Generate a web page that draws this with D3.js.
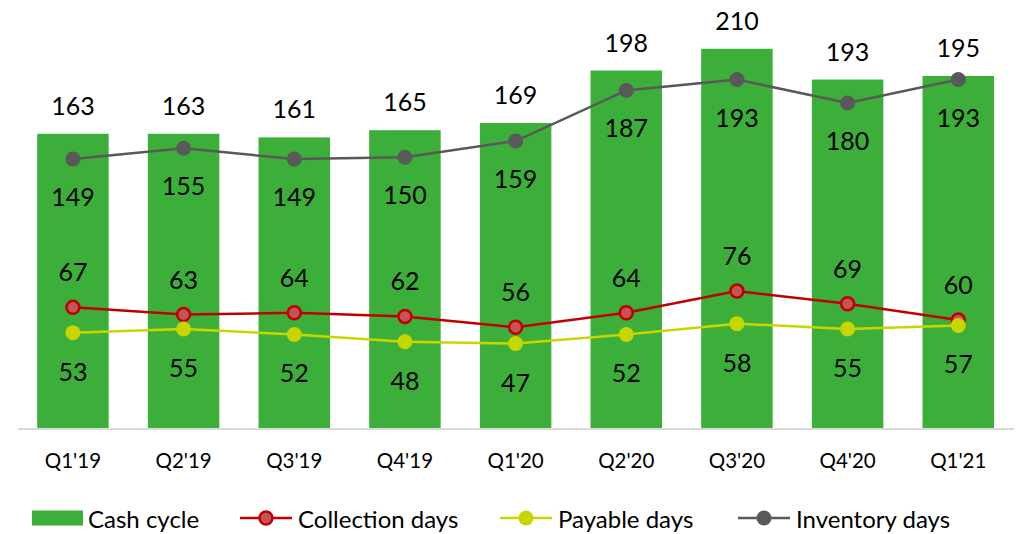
<!DOCTYPE html>
<html><head><meta charset="utf-8">
<script src="https://cdn.jsdelivr.net/npm/d3@7"></script>
<style>body{margin:0;background:#fff}svg{display:block}text{font-family:Lato,"Open Sans",sans-serif;fill:#000}</style>
</head><body><svg id="c" width="1021" height="534"></svg>
<script>
const quarters = ["Q1'19","Q2'19","Q3'19","Q4'19","Q1'20","Q2'20","Q3'20","Q4'20","Q1'21"];
const cashCycle = [163,163,161,165,169,198,210,193,195];
const inventoryDays = [149,155,149,150,159,187,193,180,193];
const collectionDays = [67,63,64,62,56,64,76,69,60];
const payableDays = [53,55,52,48,47,52,58,55,57];

const svg = d3.select("#c");
const x = d3.scaleBand().domain(quarters).range([17.6, 1013.6]).paddingInner(0.354).paddingOuter(0.177);
const y = d3.scaleLinear().domain([0, 237]).range([428.5, 0]);
const cx = d => x(d) + x.bandwidth()/2;

const GREEN = "#3cae3a", RED = "#c00000", REDF = "#c55357", YEL = "#c8d600", GRAY = "#595959";

// bars
svg.append("g").selectAll("rect").data(quarters).join("rect")
  .attr("x", d => x(d)).attr("width", x.bandwidth())
  .attr("y", (d,i) => y(cashCycle[i])).attr("height", (d,i) => y(0) - y(cashCycle[i]))
  .attr("fill", GREEN);

// axis
const ax = svg.append("g").attr("transform", `translate(0,${y(0)})`)
  .call(d3.axisBottom(x).tickSize(0).tickPadding(25));
ax.select(".domain").attr("stroke", "#d9d9d9").attr("stroke-width", 2);
ax.selectAll("text").attr("font-size", 20.5).attr("font-family", "Lato").attr("fill", "#000");

function series(vals, color, fill, r, sw) {
  const g = svg.append("g");
  g.append("path").datum(vals)
    .attr("d", d3.line().x((d,i) => cx(quarters[i])).y(d => y(d)))
    .attr("fill", "none").attr("stroke", color).attr("stroke-width", 2.5);
  g.selectAll("circle").data(vals).join("circle")
    .attr("cx", (d,i) => cx(quarters[i])).attr("cy", d => y(d))
    .attr("r", r).attr("fill", fill).attr("stroke", color).attr("stroke-width", sw);
}
series(collectionDays, RED, REDF, 6.5, 2.5);
series(payableDays, YEL, YEL, 7.5, 0);
series(inventoryDays, GRAY, GRAY, 7.5, 0);

function labels(vals, dy) {
  svg.append("g").selectAll("text").data(vals).join("text")
    .attr("x", (d,i) => cx(quarters[i])).attr("y", d => y(d) + dy)
    .attr("text-anchor", "middle").attr("dominant-baseline", "central")
    .attr("font-size", 25).text(d => d);
}
labels(cashCycle, -29);
labels(inventoryDays, 37);
labels(collectionDays, -36);
labels(payableDays, 38);

// legend
const lg = svg.append("g").attr("font-size", 24);
const ly = 518;
lg.append("rect").attr("x", 32).attr("y", ly - 7.5).attr("width", 51).attr("height", 15).attr("fill", GREEN);
lg.append("text").attr("x", 88).attr("y", ly).attr("dominant-baseline", "central").text("Cash cycle");
const items = [
  {x: 240, color: RED, fill: REDF, r: 6.5, sw: 2.5, name: "Collection days"},
  {x: 500, color: YEL, fill: YEL, r: 7.5, sw: 0, name: "Payable days"},
  {x: 738, color: GRAY, fill: GRAY, r: 7.5, sw: 0, name: "Inventory days"}
];
items.forEach(it => {
  lg.append("line").attr("x1", it.x).attr("x2", it.x + 52).attr("y1", ly).attr("y2", ly)
    .attr("stroke", it.color).attr("stroke-width", 2.5);
  lg.append("circle").attr("cx", it.x + 26).attr("cy", ly).attr("r", it.r)
    .attr("fill", it.fill).attr("stroke", it.color).attr("stroke-width", it.sw);
  lg.append("text").attr("x", it.x + 58).attr("y", ly).attr("dominant-baseline", "central").text(it.name);
});
</script></body></html>
